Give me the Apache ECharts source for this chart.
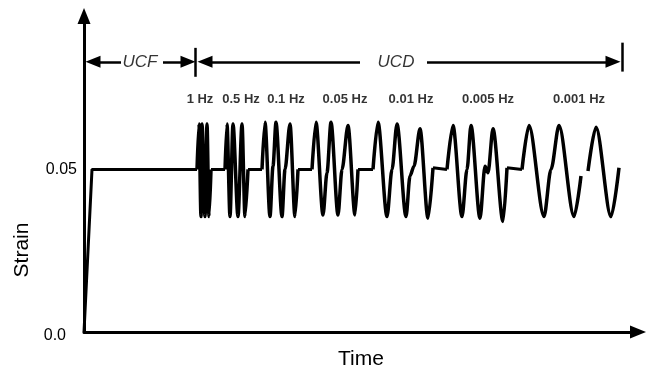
<!DOCTYPE html>
<html>
<head>
<meta charset="utf-8">
<script src="https://cdn.jsdelivr.net/npm/echarts@6/dist/echarts.min.js"></script>
<style>
  html, body { margin: 0; padding: 0; background: #fff; }
  #strainChart { width: 649px; height: 375px; }
</style>
</head>
<body>
<div id="strainChart"></div>
<script>
  // time axis in arbitrary units, strain values
  var rampHold = [[0, 0], [8, 0.05], [113, 0.05]];

  var burst1Hz = [[113, 0.05], [115, 0.064], [117, 0.0355], [118, 0.064], [121, 0.0355], [123, 0.064], [125, 0.0355], [127, 0.05]];
  var burst05Hz = [[141, 0.05], [143, 0.064], [146, 0.0355], [149, 0.064], [154, 0.0355], [158, 0.064], [161, 0.0355], [164, 0.05]];
  var burst01Hz = [[178, 0.05], [181, 0.0645], [186, 0.0355], [189, 0.051], [192, 0.0645], [198, 0.0355], [201, 0.05], [206, 0.064], [211, 0.0355], [214, 0.05]];
  var burst005Hz = [[228, 0.05], [232, 0.0645], [239, 0.036], [243, 0.049], [247, 0.0645], [254, 0.036], [258, 0.05], [264, 0.0635], [271, 0.036], [274, 0.05]];
  var burst001Hz = [[289, 0.05], [294, 0.0645], [303, 0.0355], [308, 0.05], [313, 0.064], [322, 0.0355], [326, 0.048], [330, 0.051], [336, 0.0625], [344, 0.035], [349, 0.0505]];
  var burst0005Hz = [[363, 0.05], [369, 0.0635], [378, 0.0355], [383, 0.05], [387, 0.0635], [396, 0.035], [401, 0.051], [404, 0.049], [409, 0.0625], [419, 0.034], [423, 0.0505]];
  var burst0001Hz = [[438, 0.05], [445, 0.0635], [460, 0.0355], [467, 0.05], [475, 0.0635], [490, 0.0355], [497, 0.048], null, [504, 0.0495], [512, 0.063], [527, 0.0355], [535, 0.0505]];

  var bursts = [burst1Hz, burst05Hz, burst01Hz, burst005Hz, burst001Hz, burst0005Hz, burst0001Hz];
  var freqLabels = ['1 Hz', '0.5 Hz', '0.1 Hz', '0.05 Hz', '0.01 Hz', '0.005 Hz', '0.001 Hz'];
  var freqLabelTimes = [116, 157, 202, 261, 327, 404, 495];
  var freqLabelStrain = 0.0715;

  var phaseNames = ['UCF', 'UCD'];
  var phaseLabelTimes = [56, 312];
  var phaseStrain = 0.0831;
  var phaseBounds = [111, 538];

  var fontFamily = '"Liberation Sans", Arial, sans-serif';

  // flat holds at 0.05 between the bursts
  var holdData = rampHold.slice();
  for (var i = 0; i < bursts.length - 1; i++) {
    holdData.push([bursts[i][bursts[i].length - 1][0], '-']);
    holdData.push(bursts[i][bursts[i].length - 1]);
    holdData.push(bursts[i + 1][0]);
  }

  var waveSeries = bursts.map(function (b) {
    return {
      type: 'line',
      data: b.map(function (p, k) {
        return p === null ? [b[k - 1][0], '-'] : p;
      }),
      smooth: 0.3,
      smoothMonotone: 'x',
      showSymbol: false,
      silent: true,
      lineStyle: { color: '#000', width: 3.5 },
      z: 3,
    };
  });

  function seg(t1, t2, y1, y2, s1, s2) {
    return [
      { coord: [t1, y1], symbol: s1, symbolSize: [12, 15] },
      { coord: [t2, y2], symbol: s2, symbolSize: [12, 15] },
    ];
  }

  var labelData = freqLabels.map(function (n, k) {
    return { name: n, value: [freqLabelTimes[k], freqLabelStrain] };
  });
  var phaseData = phaseNames.map(function (n, k) {
    return { name: n, value: [phaseLabelTimes[k], phaseStrain] };
  });

  var option = {
    animation: false,
    grid: { left: 84, right: 11, top: 16, bottom: 42 },
    xAxis: {
      type: 'value',
      min: 0,
      max: 554,
      name: 'Time',
      nameLocation: 'middle',
      nameGap: 17,
      nameTextStyle: { fontFamily: fontFamily, fontSize: 21, color: '#000' },
      axisLine: {
        show: true,
        symbol: ['none', 'triangle'],
        symbolSize: [13, 16],
        lineStyle: { color: '#000', width: 3 },
      },
      axisTick: { show: false },
      axisLabel: { show: false },
      splitLine: { show: false },
    },
    yAxis: {
      type: 'value',
      min: 0,
      max: 0.0972,
      interval: 0.05,
      name: 'Strain',
      nameLocation: 'middle',
      nameGap: 50,
      nameRotate: 90,
      nameTextStyle: { fontFamily: fontFamily, fontSize: 21, color: '#000', padding: [0, 152, 0, 0] },
      axisLine: {
        show: true,
        symbol: ['none', 'triangle'],
        symbolSize: [13, 16],
        lineStyle: { color: '#000', width: 3 },
      },
      axisTick: { show: false },
      splitLine: { show: false },
      axisLabel: {
        margin: 7,
        showMaxLabel: false,
        fontFamily: fontFamily,
        fontSize: 16,
        color: '#000',
        formatter: function (v) {
          if (v === 0) return '{z|0.0}';
          if (Math.abs(v - 0.05) < 1e-6) return '0.05';
          return '';
        },
        rich: {
          z: { fontFamily: fontFamily, fontSize: 16, color: '#000', padding: [8, 11, 0, 0] },
        },
      },
    },
    series: [
      {
        type: 'line',
        data: holdData,
        showSymbol: false,
        silent: true,
        lineStyle: { color: '#000', width: 3 },
        z: 3,
        markLine: {
          silent: true,
          animation: false,
          label: { show: false },
          emphasis: { disabled: true },
          lineStyle: { color: '#000', width: 2.5, type: 'solid' },
          data: [
            seg(9, 37, phaseStrain, phaseStrain, 'triangle', 'none'),
            seg(79, 104, phaseStrain, phaseStrain, 'none', 'triangle'),
            seg(121, 276, phaseStrain, phaseStrain, 'triangle', 'none'),
            seg(343, 529, phaseStrain, phaseStrain, 'none', 'triangle'),
            seg(phaseBounds[0], phaseBounds[0], 0.0874, 0.0785, 'none', 'none'),
            seg(phaseBounds[1], phaseBounds[1], 0.089, 0.0801, 'none', 'none'),
          ],
        },
      },
    ]
      .concat(waveSeries)
      .concat([
        {
          type: 'scatter',
          data: labelData,
          symbolSize: 0,
          silent: true,
          label: {
            show: true,
            position: 'inside',
            formatter: '{b}',
            fontFamily: fontFamily,
            fontSize: 13,
            fontWeight: 'bold',
            color: '#000',
          },
        },
        {
          type: 'scatter',
          data: phaseData,
          symbolSize: 0,
          silent: true,
          label: {
            show: true,
            position: 'inside',
            formatter: '{b}',
            fontFamily: fontFamily,
            fontSize: 17,
            fontStyle: 'italic',
            color: '#000',
          },
        },
      ]),
  };

  var strainChart = echarts.init(document.getElementById('strainChart'));
  strainChart.setOption(option);
</script>
</body>
</html>
